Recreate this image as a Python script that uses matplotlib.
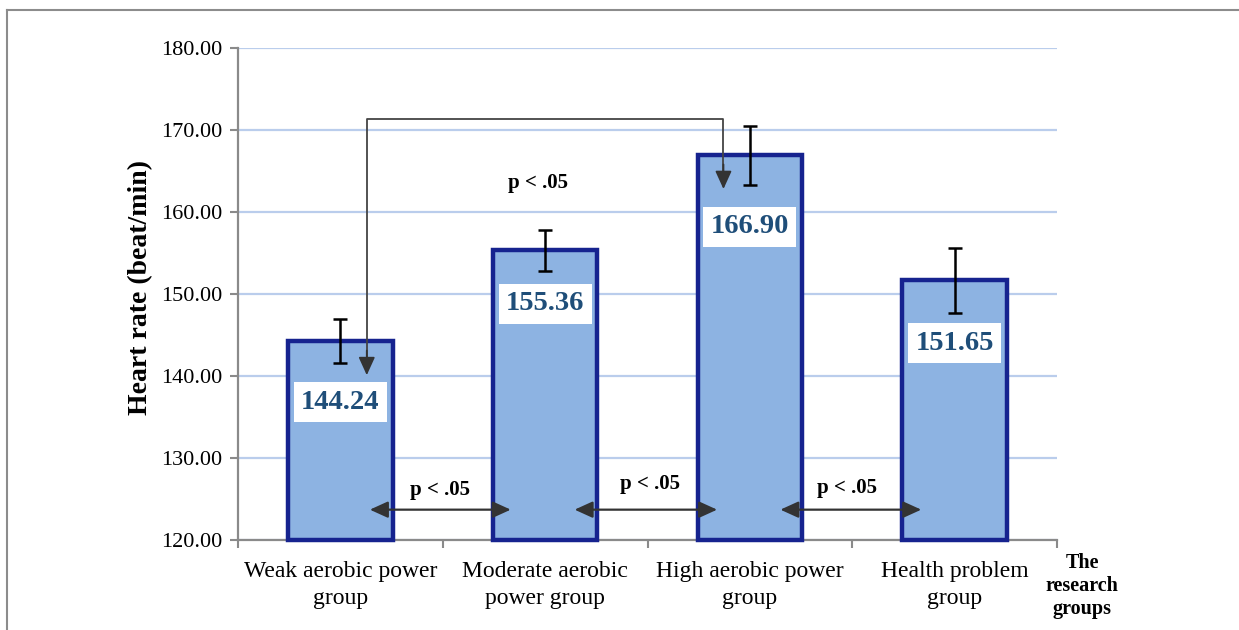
import matplotlib
matplotlib.use("Agg")
import matplotlib.pyplot as plt
from matplotlib.lines import Line2D
import numpy as np

# ---------------- data ----------------
categories = ["Weak aerobic power\ngroup", "Moderate aerobic\npower group",
              "High aerobic power\ngroup", "Health problem\ngroup"]
means = [144.24, 155.36, 166.90, 151.65]
errors = [2.7, 2.5, 3.55, 3.95]
value_labels = ["144.24", "155.36", "166.90", "151.65"]
label_y = [136.8, 148.8, 158.2, 144.0]
yticks = [120, 130, 140, 150, 160, 170, 180]
ytick_labels = ["120.00", "130.00", "140.00", "150.00", "160.00", "170.00", "180.00"]
y_min, y_max = 120, 180

# significance annotations
bracket_x = [0.129, 1.871]
bracket_top = 171.3
bracket_tips = [140.1, 162.8]
pair_arrows = [(0.144, 0.832), (1.144, 1.84), (2.149, 2.837)]
pair_arrow_y = 123.7
p_text = "p < .05"
p_positions = [(0.963, 163.5), (0.485, 126.1), (1.51, 126.8), (2.476, 126.3)]

# ---------------- style ----------------
plt.rcParams['font.family'] = ['Liberation Serif', 'DejaVu Serif']
bar_fill = '#8db3e2'
bar_edge = '#16238f'
grid_col = '#bacdec'
axis_col = '#8a8a8a'
val_col = '#1f4e79'
arrow_col = '#333333'

fig = plt.figure(figsize=(12.39, 6.30), dpi=100)
ax = fig.add_axes([238/1239, 1-540/630, (1057-238)/1239, (540-48)/630])

x = np.arange(len(categories))
heights = [m - y_min for m in means]
ax.bar(x, heights, bottom=y_min, width=0.51, color=bar_fill, edgecolor=bar_edge,
       linewidth=3.2, zorder=3, clip_on=False)
ax.errorbar(x, means, yerr=errors, fmt='none', ecolor='black', elinewidth=1.8,
            capsize=4.8, capthick=1.8, zorder=5)

for xi, ly, lab in zip(x, label_y, value_labels):
    ax.text(xi, ly, lab, ha='center', va='center', fontsize=20.5, fontweight='bold',
            color=val_col, zorder=6,
            bbox=dict(boxstyle='square,pad=0.26', facecolor='white', edgecolor='none'))

ax.set_xlim(-0.5, len(categories) - 0.5)
ax.set_ylim(y_min, y_max)
ax.set_yticks(yticks)
ax.set_yticklabels(ytick_labels)
ax.yaxis.grid(True, color=grid_col, linewidth=1.6, zorder=0)
ax.set_axisbelow(True)

ax.set_xticks(x)
ax.set_xticklabels(categories, fontsize=17, linespacing=1.4)
ax.set_xticks(np.arange(-0.5, len(categories)), minor=True)
ax.tick_params(axis='x', which='major', length=0, pad=15)
ax.tick_params(axis='x', which='minor', length=6, width=1.5, color=axis_col)
ax.tick_params(axis='y', length=6, width=1.5, color=axis_col, labelsize=16, pad=5)

for s in ['top', 'right']:
    ax.spines[s].set_visible(False)
for s in ['left', 'bottom']:
    ax.spines[s].set_color(axis_col)
    ax.spines[s].set_linewidth(1.6)

ax.set_ylabel("Heart rate (beat/min)", fontsize=20, fontweight='bold')
ax.yaxis.label.set_va('center')
ax.yaxis.set_label_coords(-0.119, 0.513)

# bracket arrow
ax.plot([bracket_x[0], bracket_x[0], bracket_x[1], bracket_x[1]],
        [bracket_tips[0] + 1.5, bracket_top, bracket_top, bracket_tips[1] + 1.5],
        color='#444444', linewidth=1.3, zorder=7, solid_capstyle='butt')
for bx, tip in zip(bracket_x, bracket_tips):
    ax.annotate('', xy=(bx, tip), xytext=(bx, tip + 3),
                arrowprops=dict(arrowstyle='-|>,head_length=0.55,head_width=0.25',
                                mutation_scale=20, color=arrow_col, lw=1.3,
                                shrinkA=0, shrinkB=0),
                zorder=7)

for (x0, x1) in pair_arrows:
    ax.annotate('', xy=(x1, pair_arrow_y), xytext=(x0, pair_arrow_y),
                arrowprops=dict(arrowstyle='<|-|>,head_length=0.55,head_width=0.25',
                                mutation_scale=20, color=arrow_col, lw=1.6,
                                shrinkA=0, shrinkB=0),
                zorder=7)

for (px, py) in p_positions:
    ax.text(px, py, p_text, ha='center', va='center', fontsize=15, fontweight='bold',
            color='black', zorder=7)

fig.text(1082/1239, 1-586/630, "The\nresearch\ngroups", ha='center', va='center',
         fontsize=14.5, fontweight='bold', linespacing=1.2)

# figure frame (top and left)
fig.add_artist(Line2D([7/1239, 1.0], [1-10/630, 1-10/630], color='#8c8c8c', linewidth=1.5))
fig.add_artist(Line2D([7/1239, 7/1239], [0.0, 1-10/630], color='#8c8c8c', linewidth=1.5))

fig.savefig("out.png", dpi=100)
